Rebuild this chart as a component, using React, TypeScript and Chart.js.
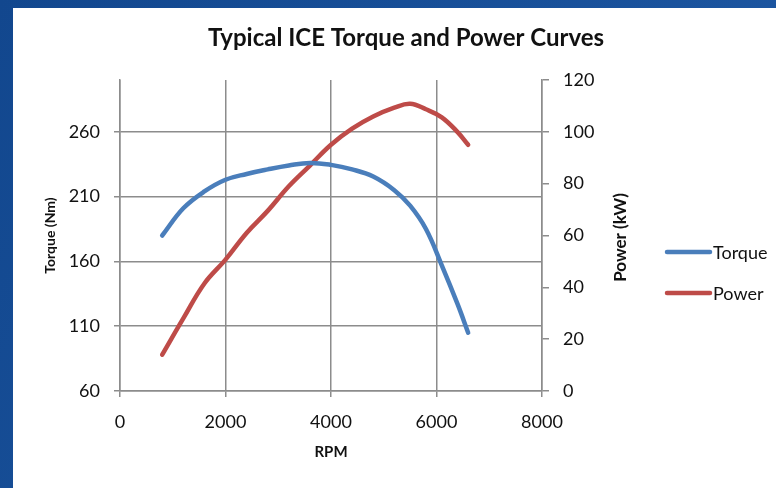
import React, { useEffect, useRef } from "react";
import { Chart, registerables } from "chart.js";

Chart.register(...registerables);

const TITLE = "Typical ICE Torque and Power Curves";
const RPM = [800, 1200, 1600, 2000, 2400, 2800, 3200, 3600, 4000, 4400, 4800, 5200, 5500, 5800, 6100, 6400, 6600];
const TORQUE = [180, 201, 214, 223, 227.5, 231, 234, 236, 234.5, 231, 225.5, 215, 203, 185, 157, 127, 105];
const POWER = [14, 28, 41.5, 50.7, 61, 69.5, 79, 87, 95, 101.2, 105.9, 109.3, 110.8, 108.7, 105.6, 99.9, 95];
const TORQUE_TICKS = [60, 110, 160, 210, 260];
const POWER_TICKS = [0, 20, 40, 60, 80, 100, 120];
const RPM_TICKS = [0, 2000, 4000, 6000, 8000];

const FONT = "Lato, 'Noto Sans', sans-serif";
const GRID = "#8c8c8c";
const TEXT = "#111";

const decor = {
  id: "decor",
  beforeDraw(chart: any) {
    const ctx = chart.ctx;
    ctx.save();
    const g = ctx.createLinearGradient(0, 0, chart.width, chart.height);
    g.addColorStop(0, "#12478e");
    g.addColorStop(1, "#1f5aa6");
    ctx.fillStyle = g;
    ctx.fillRect(0, 0, chart.width, chart.height);
    ctx.fillStyle = "#ffffff";
    ctx.fillRect(13, 8, chart.width - 13, chart.height - 8);
    ctx.restore();
  },
  afterDraw(chart: any) {
    const ctx = chart.ctx;
    const y1 = chart.scales.y1;
    ctx.save();
    ctx.translate(y1.left + 79, (y1.top + y1.bottom) / 2 + 2);
    ctx.rotate(-Math.PI / 2);
    ctx.font = `bold 17px ${FONT}`;
    ctx.fillStyle = TEXT;
    ctx.textAlign = "center";
    ctx.textBaseline = "middle";
    ctx.fillText("Power (kW)", 0, 0);
    ctx.restore();

    ctx.save();
    chart.data.datasets.forEach((ds: any, i: number) => {
      const y = 252 + i * 41;
      ctx.beginPath();
      ctx.strokeStyle = ds.borderColor;
      ctx.lineWidth = 4.5;
      ctx.lineCap = "round";
      ctx.moveTo(667, y);
      ctx.lineTo(710, y);
      ctx.stroke();
      ctx.fillStyle = TEXT;
      ctx.font = `18px ${FONT}`;
      ctx.textAlign = "left";
      ctx.textBaseline = "middle";
      ctx.fillText(ds.label, 713, y + 1);
    });
    ctx.restore();
  },
};

export default function App() {
  const ref = useRef<HTMLCanvasElement | null>(null);
  useEffect(() => {
    if (!ref.current) return;
    const chart = new Chart(ref.current, {
      type: "line",
      data: {
        datasets: [
          {
            label: "Torque",
            data: RPM.map((x, i) => ({ x, y: TORQUE[i] })),
            borderColor: "#4a7ebb",
            backgroundColor: "#4a7ebb",
            borderWidth: 4.5,
            pointRadius: 0,
            tension: 0.4,
            borderCapStyle: "round",
            yAxisID: "y",
          },
          {
            label: "Power",
            data: RPM.map((x, i) => ({ x, y: POWER[i] })),
            borderColor: "#be4b48",
            backgroundColor: "#be4b48",
            borderWidth: 4.5,
            pointRadius: 0,
            tension: 0.4,
            borderCapStyle: "round",
            yAxisID: "y1",
          },
        ],
      },
      options: {
        responsive: false,
        animation: false,
        layout: { padding: { top: 0, left: 36, right: 0, bottom: 0 } },
        plugins: {
          legend: { display: false },
          tooltip: { enabled: false },
          title: {
            display: true,
            text: TITLE,
            color: TEXT,
            font: { family: FONT, size: 24, weight: "bold" },
            padding: { top: 24, bottom: 27.2 },
          },
        },
        scales: {
          x: {
            type: "linear",
            min: 0,
            max: 8000,
            afterBuildTicks: (s: any) => {
              s.ticks = RPM_TICKS.map((v) => ({ value: v }));
            },
            afterFit: (s: any) => {
              s.height = 97;
            },
            grid: { color: GRID, lineWidth: 1.5, tickLength: 6, tickColor: GRID },
            border: { color: GRID, width: 1.5 },
            ticks: {
              color: TEXT,
              font: { family: FONT, size: 18 },
              padding: 14,
              maxRotation: 0,
              callback: (v: any) => String(v),
            },
            title: {
              display: true,
              text: "RPM",
              color: TEXT,
              font: { family: FONT, size: 15, weight: "bold" },
              padding: { top: 0, bottom: 27 },
            },
          },
          y: {
            type: "linear",
            position: "left",
            min: 60,
            max: 300,
            afterBuildTicks: (s: any) => {
              s.ticks = TORQUE_TICKS.map((v) => ({ value: v }));
            },
            afterFit: (s: any) => {
              s.width = 84;
            },
            grid: { color: GRID, lineWidth: 1.5, tickLength: 6, tickColor: GRID },
            border: { color: GRID, width: 1.5 },
            ticks: { color: TEXT, font: { family: FONT, size: 18 }, padding: 14, callback: (v: any) => String(v) },
            title: {
              display: true,
              text: "Torque (Nm)",
              color: TEXT,
              font: { family: FONT, size: 14, weight: "bold" },
              padding: { top: 6, bottom: 0 },
            },
          },
          y1: {
            type: "linear",
            position: "right",
            min: 0,
            max: 120,
            afterBuildTicks: (s: any) => {
              s.ticks = POWER_TICKS.map((v) => ({ value: v }));
            },
            afterFit: (s: any) => {
              s.width = 234;
            },
            grid: { drawOnChartArea: false, color: GRID, lineWidth: 1.5, tickLength: 7, tickColor: GRID },
            border: { color: GRID, width: 1.5 },
            ticks: { color: TEXT, font: { family: FONT, size: 18 }, padding: 14, callback: (v: any) => String(v) },
          },
        },
      },
      plugins: [decor],
    } as any);
    return () => chart.destroy();
  }, []);
  return (
    <div style={{ position: "absolute", left: 0, top: 0, width: 776, height: 488 }}>
      <canvas ref={ref} width={776} height={488} style={{ display: "block" }} />
    </div>
  );
}
